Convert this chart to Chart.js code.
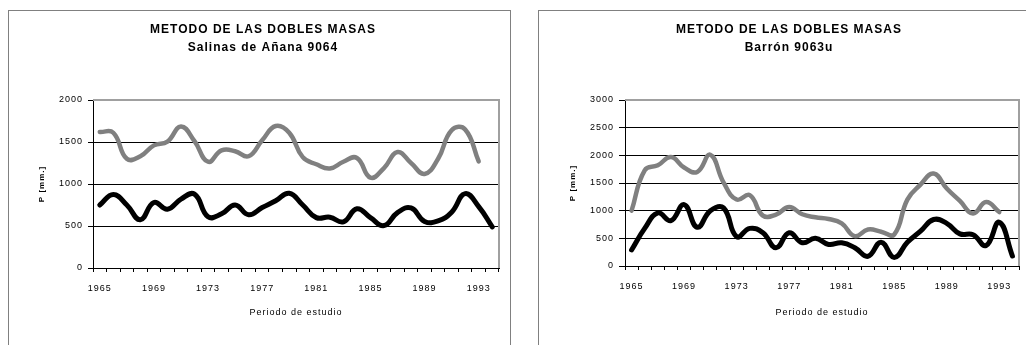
<!DOCTYPE html>
<html>
<head>
<meta charset="utf-8">
<script src="https://cdn.jsdelivr.net/npm/chart.js@4.4.1/dist/chart.umd.min.js"></script>
<style>
body { margin: 0; background: #fff; width: 1026px; height: 345px; overflow: hidden; position: relative; }
.frame { position: absolute; top: 10px; border: 1px solid #808080; border-bottom: none; background: #fff; }
#frameA { left: 8px; width: 501px; height: 334px; }
#frameB { left: 538px; width: 487px; height: 334px; border-right: none; }
canvas { display: block; }
</style>
</head>
<body>
<div class="frame" id="frameA"><canvas id="salinas" width="501" height="334"></canvas></div>
<div class="frame" id="frameB"><canvas id="barron" width="487" height="334"></canvas></div>
<script>
Chart.defaults.color = "#000";
Chart.defaults.font.family = "'Liberation Sans', Arial, sans-serif";

const years = ["1965", "1966", "1967", "1968", "1969", "1970", "1971", "1972", "1973", "1974",
               "1975", "1976", "1977", "1978", "1979", "1980", "1981", "1982", "1983", "1984",
               "1985", "1986", "1987", "1988", "1989", "1990", "1991", "1992", "1993", "1994"];
const shownYears = ["1965", "1969", "1973", "1977", "1981", "1985", "1989", "1993"];

// Salinas de Añana 9064
const salinasGrey = [1620, 1610, 1300, 1330, 1460, 1505, 1685, 1510, 1265, 1400,
                     1390, 1330, 1520, 1690, 1610, 1320, 1235, 1185, 1265, 1310,
                     1075, 1190, 1380, 1250, 1120, 1300, 1640, 1650, 1270];
const salinasBlack = [750, 875, 750, 575, 780, 700, 820, 880, 610, 645,
                      750, 635, 720, 800, 890, 750, 600, 605, 550, 705,
                      600, 505, 660, 715, 555, 560, 665, 885, 730, 490];

// Barrón 9063u
const barronGrey = [1000, 1730, 1820, 1970, 1780, 1700, 2010, 1510, 1200, 1280,
                    910, 930, 1065, 935, 880, 850, 770, 540, 660, 620,
                    570, 1200, 1470, 1670, 1400, 1175, 950, 1155, 975];
const barronBlack = [290, 680, 960, 820, 1110, 700, 1000, 1050, 530, 680,
                     600, 330, 600, 420, 500, 390, 420, 330, 175, 430,
                     155, 430, 630, 840, 770, 580, 565, 370, 790, 180];

const salinasMax = 2000;
const barronMax = 3000;
const yStep = 500;

// wider letters, like the old spreadsheet rendering
const spacing = {
    id: "spacing",
    beforeLayout(chart) { chart.ctx.letterSpacing = "1px"; },
    beforeDraw(chart) { chart.ctx.letterSpacing = "1px"; }
};

// grey frame on top and right of the plot area
const plotBorder = {
    id: "plotBorder",
    beforeDatasetsDraw(chart) {
        const { ctx, chartArea: a } = chart;
        ctx.save();
        ctx.strokeStyle = "#a0a0a0";
        ctx.lineWidth = 2;
        ctx.beginPath();
        ctx.moveTo(a.left, a.top);
        ctx.lineTo(a.right, a.top);
        ctx.lineTo(a.right, a.bottom);
        ctx.stroke();
        ctx.restore();
    }
};

function drawChart(id, place, grey, black, yMax, p) {
    new Chart(document.getElementById(id), {
        type: "line",
        data: {
            labels: years,
            datasets: [
                { label: "Serie 1", data: grey, borderColor: "#808080", borderWidth: 4.5 },
                { label: "Serie 2", data: black, borderColor: "#000", borderWidth: 5 }
            ]
        },
        options: {
            responsive: false,
            animation: false,
            layout: { padding: { left: p.left, right: p.right, top: 0, bottom: 0 } },
            elements: {
                point: { radius: 0 },
                line: { tension: 0.45, fill: false, borderCapStyle: "round", borderJoinStyle: "round" }
            },
            plugins: {
                legend: { display: false },
                tooltip: { enabled: false },
                title: {
                    display: true,
                    text: ["METODO DE LAS DOBLES MASAS", place],
                    color: "#000",
                    font: { size: 12, weight: "bold", lineHeight: 1.5 },
                    padding: { top: 10, bottom: 43 }
                }
            },
            scales: {
                x: {
                    offset: true,
                    grid: { offset: true, drawOnChartArea: false, drawTicks: true, tickLength: 4, tickColor: "#000" },
                    border: { color: "#000", width: 1 },
                    ticks: {
                        autoSkip: false, maxRotation: 0, padding: 11, font: { size: 9 },
                        callback: (v, i) => shownYears.includes(years[i]) ? years[i] : ""
                    },
                    title: { display: true, text: "Periodo de estudio", font: { size: 9 }, padding: { top: 0, bottom: p.xTitle } },
                    afterFit: s => { s.height = p.xh; }
                },
                y: {
                    min: 0,
                    max: yMax,
                    grid: {
                        color: c => c.tick.value === yMax ? "rgba(0,0,0,0)" : "#000",
                        lineWidth: 1, tickLength: p.tick, tickColor: "#000"
                    },
                    border: { color: "#000", width: 1 },
                    ticks: { stepSize: yStep, padding: 5, font: { size: 9 }, callback: v => String(v) },
                    title: { display: true, text: "P [mm.]", font: { size: 8, weight: "bold" }, padding: { top: p.yTitle, bottom: 0 } },
                    afterFit: s => { s.width = p.yw; }
                }
            }
        },
        plugins: [spacing, plotBorder]
    });
}

drawChart("salinas", "Salinas de Añana 9064", salinasGrey, salinasBlack, salinasMax,
    { left: 18, right: 11, yw: 66, xh: 77, tick: 5, yTitle: 10.2, xTitle: 27.2 });
drawChart("barron", "Barrón 9063u", barronGrey, barronBlack, barronMax,
    { left: 20, right: 7, yw: 66, xh: 79, tick: 6, yTitle: 9.2, xTitle: 27.5 });
</script>
</body>
</html>
